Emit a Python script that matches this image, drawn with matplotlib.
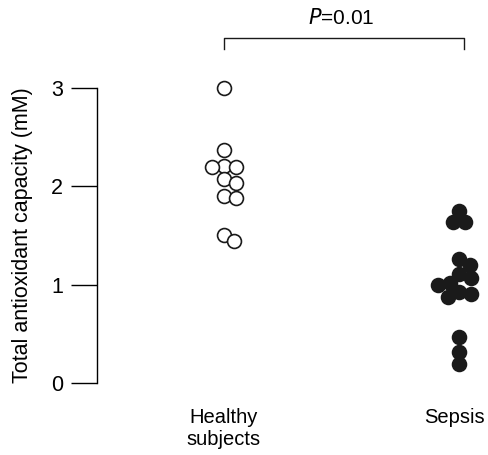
import numpy as np
import matplotlib
matplotlib.use("Agg")
import matplotlib.pyplot as plt
import matplotlib.transforms as mtransforms

plt.rcParams['font.family'] = ['Liberation Sans', 'DejaVu Sans']

groups = ["Healthy\nsubjects", "Sepsis"]
healthy = [3.00, 2.37, 2.21, 2.20, 2.20, 2.07, 2.03, 1.90, 1.88, 1.51, 1.44]
sepsis = [1.75, 1.64, 1.64, 1.26, 1.20, 1.11, 1.07, 1.02, 1.00, 0.93, 0.91,
          0.87, 0.47, 0.32, 0.19]
p_text = "=0.01"


def swarm(ax, x0, vals, diam_px):
    # simple beeswarm in pixel space, returns x positions in data units
    tr = ax.transData
    pts = []
    xs = np.zeros(len(vals))
    order = np.argsort(vals)[::-1]
    cx = tr.transform((x0, 0))[0]
    for i in order:
        py = tr.transform((x0, vals[i]))[1]
        cands = [0.0]
        for (qx, qy) in pts:
            dy = py - qy
            if abs(dy) < diam_px:
                dx = np.sqrt(diam_px ** 2 - dy ** 2)
                cands += [qx + dx, qx - dx]
        cands.sort(key=abs)
        for c in cands:
            if all((c - qx) ** 2 + (py - qy) ** 2 >= diam_px ** 2 - 1e-6 for qx, qy in pts):
                break
        pts.append((c, py))
        xs[i] = tr.inverted().transform((cx + c, py))[0]
    return xs


fig = plt.figure(figsize=(4.88, 4.55), dpi=100)
ax = fig.add_axes([97 / 488, 72 / 455, 391 / 488, 295 / 455])
ax.set_xlim(0.46, 2.123)
ax.set_ylim(0, 3)

pos = [1, 2]
xh = swarm(ax, pos[0], healthy, 12.5)
xs = swarm(ax, pos[1], sepsis, 12.5)
ax.scatter(xh, healthy, s=100, facecolor='white', edgecolor='#1a1a1a',
           linewidth=1.2, clip_on=False, zorder=3)
ax.scatter(xs, sepsis, s=100, facecolor='#1a1a1a', edgecolor='#1a1a1a',
           linewidth=1.2, clip_on=False, zorder=3)

for s in ['top', 'right', 'bottom']:
    ax.spines[s].set_visible(False)
ax.spines['left'].set_linewidth(1.0)
ax.set_yticks([0, 1, 2, 3])
ax.tick_params(axis='y', length=18.5, width=1.0, pad=6, labelsize=15.5)
ax.set_xticks(pos)
ax.set_xticklabels(groups, fontsize=14.5)
ax.tick_params(axis='x', length=0, pad=18)
# nudge the right-hand label a little left so it stays inside the figure
lab = ax.get_xticklabels()[1]
lab.set_transform(lab.get_transform() + mtransforms.ScaledTranslation(-5 / 100, 0, fig.dpi_scale_trans))
ax.set_ylabel("Total antioxidant capacity (mM)", fontsize=15.5, labelpad=13)

# significance bracket
ax.plot([pos[0], pos[0], pos[1] + 0.02, pos[1] + 0.02], [3.40, 3.51, 3.51, 3.40],
        color='#1a1a1a', lw=1.0, clip_on=False)
ax.text((pos[0] + pos[1]) / 2, 3.61, r"$\it{P}$" + p_text, ha='center', va='bottom',
        fontsize=15)

fig.savefig("out.png", dpi=100)
